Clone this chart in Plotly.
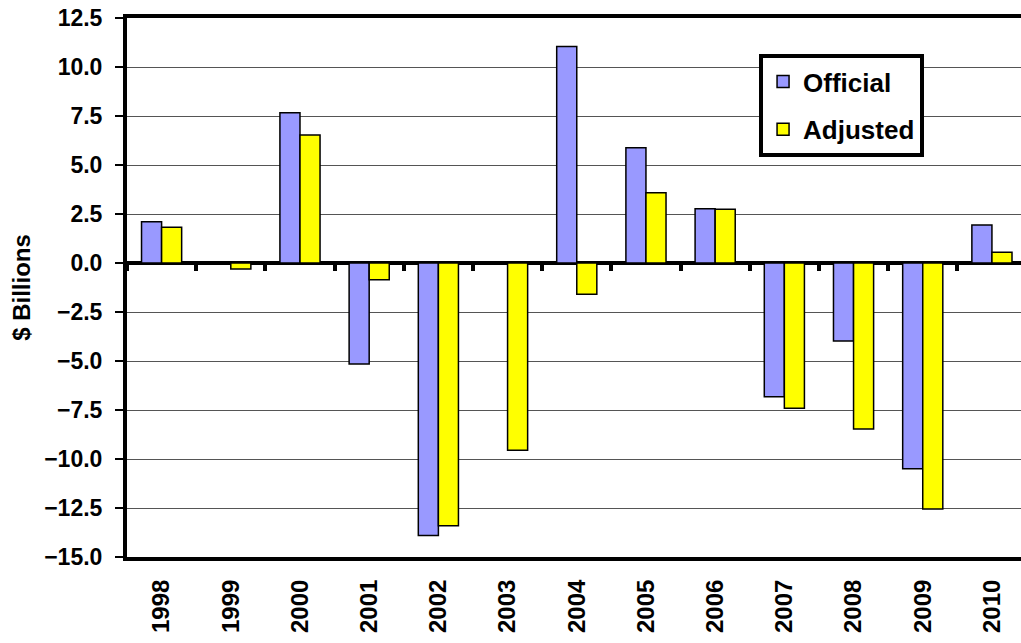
import plotly.graph_objects as go

years = ["1998", "1999", "2000", "2001", "2002", "2003", "2004",
         "2005", "2006", "2007", "2008", "2009", "2010"]
official = [2.1, 0.0, 7.67, -5.15, -13.9, 0.0, 11.04, 5.88, 2.77, -6.82, -3.98, -10.5, 1.94]
adjusted = [1.82, -0.3, 6.53, -0.85, -13.4, -9.55, -1.6, 3.59, 2.74, -7.41, -8.47, -12.55, 0.55]
y_ticks = [12.5, 10.0, 7.5, 5.0, 2.5, 0.0, -2.5, -5.0, -7.5, -10.0, -12.5, -15.0]

FONT = "Arial, 'Liberation Sans', sans-serif"

fig = go.Figure()
fig.add_trace(go.Bar(name="Official", x=years, y=official,
                     marker=dict(color="#9999FF", line=dict(color="#000000", width=1.5)),
                     legendgroup="a"))
fig.add_trace(go.Bar(name="Adjusted", x=years, y=adjusted,
                     marker=dict(color="#FFFF00", line=dict(color="#000000", width=1.5)),
                     legendgroup="b"))
# invisible helper trace so the zero-line tick axis is drawn
fig.add_trace(go.Scatter(x=years, y=[0] * len(years), xaxis="x2", mode="markers",
                         marker=dict(opacity=0), showlegend=False, hoverinfo="skip"))

fig.update_layout(
    width=1021, height=643,
    margin=dict(l=127, r=0, t=18, b=86, autoexpand=False),
    paper_bgcolor="white", plot_bgcolor="white",
    barmode="group", bargap=0.42, bargroupgap=0,
    font=dict(family=FONT, color="black"),
    showlegend=True,
    legend=dict(x=0.707, y=0.933, xanchor="left", yanchor="top",
                bordercolor="black", borderwidth=4, bgcolor="white",
                font=dict(size=26, weight="bold"), tracegroupgap=11,
                traceorder="grouped", entrywidth=118),
    xaxis=dict(type="category", categoryarray=years, range=[-0.5, 12.42],
               showline=True, linecolor="black", linewidth=4, mirror=True,
               ticks="", showgrid=False, tickangle=-90, automargin=False,
               tickfont=dict(size=24, weight="bold"), ticklabelstandoff=9),
    xaxis2=dict(type="category", categoryarray=years, range=[-0.5, 12.42],
                overlaying="x", anchor="free", position=15 / 27.5,
                tickson="boundaries", ticks="outside", ticklen=7, tickwidth=4,
                tickcolor="black", showticklabels=False, showgrid=False,
                showline=False, automargin=False),
    yaxis=dict(range=[-15, 12.5], tickvals=y_ticks, tickformat=".1f",
               showline=True, linecolor="black", linewidth=4, automargin=False,
               ticks="outside", ticklen=8, tickwidth=2, tickcolor="black",
               showgrid=True, gridcolor="#555555", gridwidth=1,
               zeroline=True, zerolinecolor="black", zerolinewidth=4,
               tickfont=dict(size=23, weight="bold"), ticklabelstandoff=8,
               title=dict(text="$ Billions", font=dict(size=24, weight="bold"),
                          standoff=8)),
)

fig.write_html("out.html",
               config={"displayModeBar": False},
               post_script="document.body.style.margin='0';"
                           "document.body.style.overflow='hidden';")
